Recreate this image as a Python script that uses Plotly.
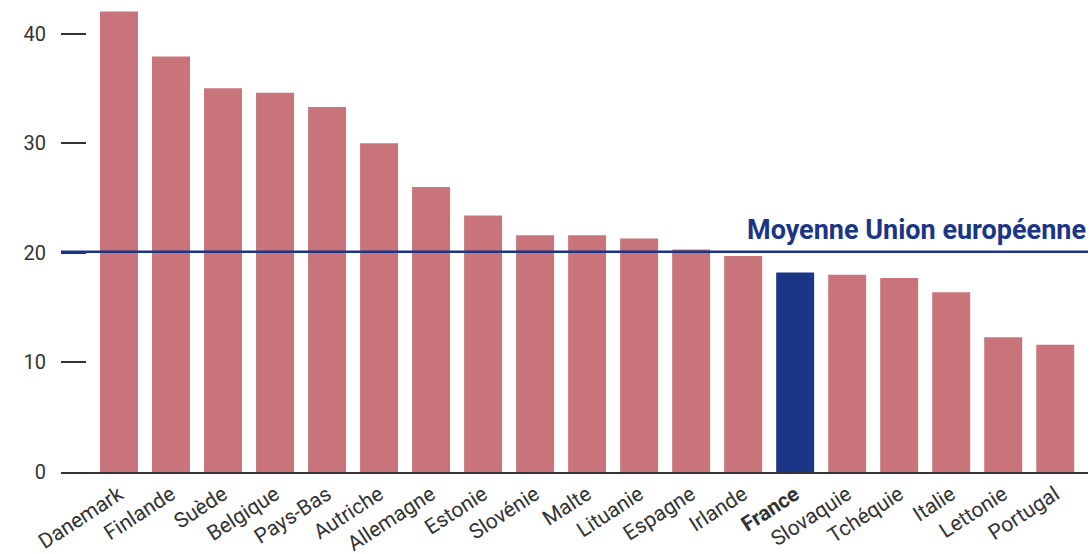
import plotly.graph_objects as go

# part of each country
countries = ["Danemark", "Finlande", "Suède", "Belgique", "Pays-Bas", "Autriche",
             "Allemagne", "Estonie", "Slovénie", "Malte", "Lituanie", "Espagne",
             "Irlande", "France", "Slovaquie", "Tchéquie", "Italie", "Lettonie", "Portugal"]
values = [42.0, 37.9, 35.0, 34.6, 33.3, 30.0, 26.0, 23.4, 21.6, 21.6, 21.3, 20.3,
          19.7, 18.2, 18.0, 17.7, 16.4, 12.3, 11.6]
eu_average = 20.1
y_ticks = [0, 10, 20, 30, 40]

pink = "#C9737B"
navy = "#1B3587"
grey = "#333333"

colors = [navy if c == "France" else pink for c in countries]
labels = ["<b>France</b>" if c == "France" else c for c in countries]

fig = go.Figure()

fig.add_trace(go.Bar(
    x=countries,
    y=values,
    marker=dict(color=colors, line=dict(width=0)),
    hoverinfo="x+y",
))

# EU average line
fig.add_shape(type="line", xref="paper", x0=0, x1=1, yref="y", y0=eu_average, y1=eu_average,
              line=dict(color=navy, width=2.5))
fig.add_annotation(xref="paper", x=1, yref="y", y=eu_average, xanchor="right", yanchor="bottom",
                   text="<b>Moyenne Union européenne</b>", showarrow=False, yshift=4,
                   font=dict(family="Roboto", size=27, color=navy))

fig.update_layout(
    width=1092,
    height=554,
    margin=dict(l=61, r=4, t=5, b=82, autoexpand=False),
    plot_bgcolor="white",
    paper_bgcolor="white",
    bargap=0.27,
    showlegend=False,
    font=dict(family="Roboto", size=20, color=grey),
    xaxis=dict(
        tickvals=countries,
        ticktext=labels,
        tickangle=-33,
        range=[-1.115, 18.63],
        showline=True,
        linecolor=grey,
        linewidth=2,
        ticks="",
        showgrid=False,
        tickfont=dict(size=21),
    ),
    yaxis=dict(
        range=[0, 42.6],
        tickvals=y_ticks,
        ticks="inside",
        ticklen=25,
        tickwidth=1.5,
        tickcolor=grey,
        showline=False,
        showgrid=False,
        zeroline=False,
        ticklabelstandoff=14,
    ),
)

# page body has a default 8px margin, drop it so the figure fills the window
fig.write_html("out.html", config={"displayModeBar": False},
               post_script="document.body.style.margin='0';")
